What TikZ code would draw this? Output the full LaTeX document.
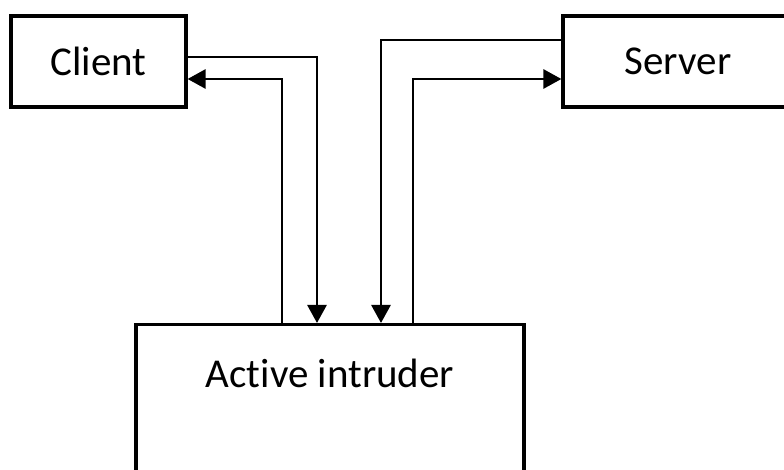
\documentclass[tikz,border=0pt]{standalone}
\usepackage{fontspec}
\setmainfont{Carlito}[Ligatures=NoCommon]
\usetikzlibrary{arrows.meta}

\begin{document}
\begin{tikzpicture}
[%%%%%%%%%%%%%%%%%%%%%%%%%%%%%%
x=0.5pt,y=0.5pt,
box/.style={rectangle,draw=black,line width=1.6pt,inner sep=0pt,font=\fontsize{20.5}{24}\selectfont},
link/.style={draw=black,line width=1.4pt,-{Triangle[length=9pt,width=9.5pt]}},
]%%%%%%%%%%%%%%%%%%%%%%%%%%%%%%
\clip (0,0) rectangle (784,470);

\node[box,minimum width=87.5pt,minimum height=45.5pt] (client) at (98.5,408.5){Client};
\node[box,minimum width=115pt,minimum height=45.5pt] (server) at (678,408.5){Server};
\node[box,minimum width=194pt,text height=31.5pt,text depth=50pt,anchor=north] (intruder) at (330,147){Active intruder};

\draw[link] ([yshift=2.25pt]client.east) -| ([xshift=-6.5pt]intruder.north);
\draw[link] ([xshift=-24pt]intruder.north) |- ([yshift=-8.75pt]client.east);

\draw[link] ([yshift=10.75pt]server.west) -| ([xshift=25.5pt]intruder.north);
\draw[link] ([xshift=41.5pt]intruder.north) |- ([yshift=-8.75pt]server.west);
\end{tikzpicture}
\end{document}
